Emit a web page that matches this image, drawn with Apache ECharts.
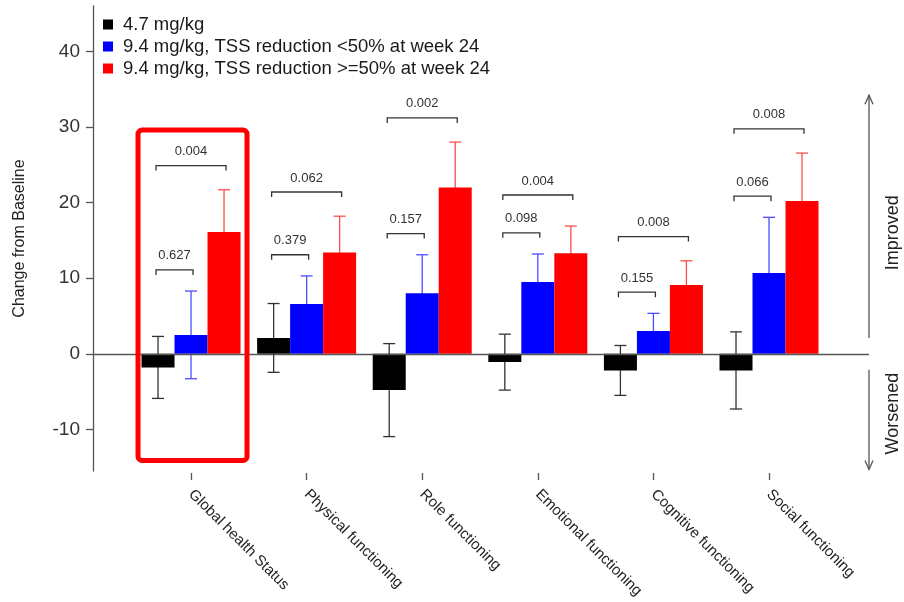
<!DOCTYPE html>
<html>
<head>
<meta charset="utf-8">
<title>QLQ-C30 functional scales: change from baseline</title>
<script src="https://cdn.jsdelivr.net/npm/echarts@6/dist/echarts.min.js"></script>
<style>
  html, body { margin: 0; padding: 0; background: #ffffff; }
  #chart { width: 904px; height: 602px; }
</style>
</head>
<body>
<div id="chart"></div>
<script>
// ---- data ----
const categories = [
  'Global health Status', 'Physical functioning', 'Role functioning',
  'Emotional functioning', 'Cognitive functioning', 'Social functioning'
];
const seriesNames = [
  '4.7 mg/kg',
  '9.4 mg/kg, TSS reduction <50% at week 24',
  '9.4 mg/kg, TSS reduction >=50% at week 24'
];
// mean change from baseline and its error (half-length of the error bar)
const lowDose         = [-1.8, 2.1, -4.8, -1.1, -2.2, -2.2];
const lowDoseErr      = [4.1, 4.55, 6.15, 3.7, 3.3, 5.1];
const highDoseLess    = [2.5, 6.6, 8.0, 9.5, 3.0, 10.7];
const highDoseLessErr = [5.8, 3.7, 5.1, 3.7, 2.35, 7.35];
const highDoseMore    = [16.1, 13.4, 22.0, 13.3, 9.1, 20.2];
const highDoseMoreErr = [5.6, 4.8, 6.0, 3.6, 3.2, 6.35];
// p-values: 4.7 mg/kg vs each 9.4 mg/kg subgroup
const pVsLess = ['0.627', '0.379', '0.157', '0.098', '0.155', '0.066'];
const pVsMore = ['0.004', '0.062', '0.002', '0.004', '0.008', '0.008'];
const yTicks = [-10, 0, 10, 20, 30, 40];

// ---- styling ----
const FONT = '"Liberation Sans", Arial, Helvetica, sans-serif';
const barColors = ['#000000', '#0000ff', '#ff0000'];
const errColors = ['#333333', '#4d4dff', '#ff4d4d'];
const axisGrey = '#555555';
const BAR_W = 33;
const groupOffsets = [-BAR_W, 0, BAR_W];

const means = [lowDose, highDoseLess, highDoseMore];
const errs = [lowDoseErr, highDoseLessErr, highDoseMoreErr];

const chart = echarts.init(document.getElementById('chart'), null, { renderer: 'canvas' });

function errorBarRenderer(offset, color) {
  return function (params, api) {
    const x = api.value(0), m = api.value(1), e = api.value(2);
    const top = api.coord([x, m + e]);
    const bot = api.coord([x, m - e]);
    const cx = top[0] + offset;
    const st = { stroke: color, lineWidth: 1.3 };
    return {
      type: 'group',
      children: [
        { type: 'line', shape: { x1: cx, y1: top[1], x2: cx, y2: bot[1] }, style: st },
        { type: 'line', shape: { x1: cx - 6, y1: top[1], x2: cx + 6, y2: top[1] }, style: st },
        { type: 'line', shape: { x1: cx - 6, y1: bot[1], x2: cx + 6, y2: bot[1] }, style: st }
      ]
    };
  };
}

// bracket heights sit just above the taller error bar they span
const bracketRows = categories.map((c, i) => {
  const lessTop = highDoseLess[i] + highDoseLessErr[i];
  const moreTop = highDoseMore[i] + highDoseMoreErr[i];
  const level1 = lessTop + 2.8;
  const level2 = Math.max(moreTop + 3.2, level1 + 5);
  return [i, level1, level2, pVsLess[i], pVsMore[i]];
});

function bracketRenderer(params, api) {
  const x = api.value(0);
  const p1 = api.coord([x, api.value(1)]);
  const p2 = api.coord([x, api.value(2)]);
  const cx = p1[0];
  const st = { stroke: '#333333', lineWidth: 1.3, fill: 'none' };
  const txt = { fill: '#333333', fontSize: 13, fontFamily: FONT, align: 'center', verticalAlign: 'middle' };
  const row = bracketRows[params.dataIndex];
  function bracket(y, xa, xb) {
    return {
      type: 'polyline',
      shape: { points: [[xa, y + 5], [xa, y], [xb, y], [xb, y + 5]] },
      style: st
    };
  }
  const xa = cx + groupOffsets[0] - 2;
  const xb1 = cx + groupOffsets[1] + 2;
  const xb2 = cx + groupOffsets[2] + 2;
  return {
    type: 'group',
    children: [
      bracket(p1[1], xa, xb1),
      { type: 'text', style: Object.assign({ text: row[3], x: (xa + xb1) / 2, y: p1[1] - 14 }, txt) },
      bracket(p2[1], xa, xb2),
      { type: 'text', style: Object.assign({ text: row[4], x: (xa + xb2) / 2, y: p2[1] - 14 }, txt) }
    ]
  };
}

const barSeries = seriesNames.map((name, g) => ({
  name: name,
  type: 'bar',
  barWidth: BAR_W,
  barGap: 0,
  z: 3,
  itemStyle: { color: barColors[g] },
  data: means[g].map((v, i) => [i, v]),
  markLine: g === 0 ? {
    silent: true,
    symbol: ['none', 'none'],
    label: { show: false },
    lineStyle: { color: axisGrey, width: 1.3, type: 'solid' },
    data: [{ yAxis: 0 }]
  } : undefined
}));

const errSeries = seriesNames.map((name, g) => ({
  type: 'custom',
  name: 'err' + g,
  z: 2,
  clip: false,
  renderItem: errorBarRenderer(groupOffsets[g], errColors[g]),
  data: means[g].map((v, i) => [i, v, errs[g][i]])
}));

chart.setOption({
  animation: false,
  backgroundColor: '#ffffff',
  textStyle: { fontFamily: FONT },
  grid: { left: 93, right: 35, top: 6, bottom: 131, containLabel: false, outerBoundsMode: 'none' },
  legend: {
    data: seriesNames,
    orient: 'vertical',
    left: 103,
    top: 15,
    padding: 0,
    icon: 'rect',
    itemWidth: 10,
    itemHeight: 10,
    itemGap: 3,
    textStyle: { fontSize: 18.5, lineHeight: 18.5, color: '#1a1a1a', fontFamily: FONT, padding: [0, 0, 0, 5] }
  },
  xAxis: {
    type: 'value',
    min: -0.848,
    max: 5.865,
    offset: 2,
    splitLine: { show: false },
    axisLine: { show: false, onZero: false },
    axisTick: { show: true, customValues: categories.map((c, i) => i), length: 7, lineStyle: { color: axisGrey, width: 1.3 } },
    axisLabel: {
      customValues: categories.map((c, i) => i),
      formatter: v => categories[Math.round(v)],
      rotate: -45,
      margin: 19,
      fontSize: 15,
      color: '#222222',
      fontFamily: FONT
    }
  },
  yAxis: {
    type: 'value',
    min: -15.5,
    max: 46,
    name: 'Change from Baseline',
    nameLocation: 'middle',
    nameGap: 65,
    nameTextStyle: { fontSize: 16, color: '#222222', fontFamily: FONT },
    splitLine: { show: false },
    axisLine: { show: true, onZero: false, lineStyle: { color: axisGrey, width: 1.3 } },
    axisTick: { show: true, customValues: yTicks, length: 7, lineStyle: { color: axisGrey, width: 1.3 } },
    axisLabel: { customValues: yTicks, margin: 13, fontSize: 19, color: '#333333', fontFamily: FONT }
  },
  series: barSeries.concat(errSeries).concat([{
    type: 'custom',
    name: 'pvalues',
    z: 4,
    clip: false,
    renderItem: bracketRenderer,
    data: bracketRows.map(r => [r[0], r[1], r[2]])
  }])
});

// annotations: highlight box around the first category and the direction arrows
const px = (x, y) => chart.convertToPixel({ gridIndex: 0 }, [x, y]);
const boxTL = px(0, 29.6), boxBR = px(0, -14.1);
const arrowX = px(5.865, 0)[0];
const impTop = px(0, 34.2)[1], impBot = px(0, 2.1)[1];
const worTop = px(0, -2.1)[1], worBot = px(0, -15.3)[1];
const arrowStyle = { stroke: axisGrey, lineWidth: 1.3, fill: 'none' };

chart.setOption({
  graphic: [
    {
      type: 'rect',
      shape: { x: boxTL[0] - 53, y: boxTL[1], width: 109, height: boxBR[1] - boxTL[1], r: 4 },
      style: { stroke: '#ff0000', lineWidth: 5, fill: 'none' },
      z: 10
    },
    { type: 'line', shape: { x1: arrowX, y1: impTop, x2: arrowX, y2: impBot }, style: arrowStyle },
    { type: 'polyline', shape: { points: [[arrowX - 4, impTop + 9], [arrowX, impTop], [arrowX + 4, impTop + 9]] }, style: arrowStyle },
    { type: 'line', shape: { x1: arrowX, y1: worTop, x2: arrowX, y2: worBot }, style: arrowStyle },
    { type: 'polyline', shape: { points: [[arrowX - 4, worBot - 9], [arrowX, worBot], [arrowX + 4, worBot - 9]] }, style: arrowStyle },
    {
      type: 'text', x: arrowX + 24, y: px(0, 16)[1], rotation: Math.PI / 2,
      style: { text: 'Improved', fontSize: 18, fontFamily: FONT, fill: '#222222', align: 'center', verticalAlign: 'middle' }
    },
    {
      type: 'text', x: arrowX + 24, y: px(0, -7.9)[1], rotation: Math.PI / 2,
      style: { text: 'Worsened', fontSize: 18, fontFamily: FONT, fill: '#222222', align: 'center', verticalAlign: 'middle' }
    }
  ]
});
</script>
</body>
</html>
